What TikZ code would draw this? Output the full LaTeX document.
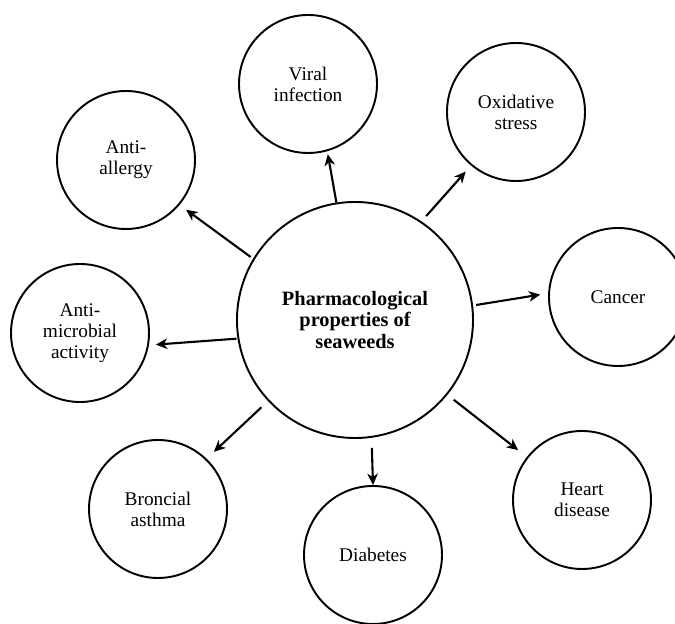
\documentclass[tikz,border=0pt]{standalone}
\usepackage{fontspec}
\setmainfont{Liberation Serif}
\usetikzlibrary{arrows.meta}

\begin{document}
\begin{tikzpicture}[thick,
  hub/.style={circle, draw, line width=1.1pt, minimum size=4.72cm, inner sep=0pt,
    align=center, font=\fontsize{11.6}{12.2}\selectfont\bfseries},
  prop/.style={circle, draw, line width=1.1pt, minimum size=2.76cm, inner sep=0pt,
    align=center, font=\fontsize{11}{12}\selectfont},
  link/.style={-{Stealth[length=6.5pt,width=6pt,inset=2pt]}, line width=1.2pt}]

  \useasboundingbox (0,0) rectangle (13.5,12.48);

  % -- Central hub --
  \node[hub] (hub) at (7.10, 6.08) {Pharmacological\\properties of\\seaweeds};

  % -- Outer properties --
  \node[prop] (viral)   at (6.16, 10.80) {Viral\\infection};
  \node[prop] (allergy) at (2.52, 9.28)  {Anti-\\allergy};
  \node[prop] (oxid)    at (10.32, 10.24) {Oxidative\\stress};
  \node[prop] (cancer)  at (12.36, 6.54) {Cancer};
  \node[prop] (microb)  at (1.60, 5.82)  {Anti-\\microbial\\activity};
  \node[prop] (asthma)  at (3.16, 2.30)  {Broncial\\asthma};
  \node[prop] (diab)    at (7.46, 1.38)  {Diabetes};
  \node[prop] (heart)   at (11.64, 2.48) {Heart\\disease};

  % -- Links from the hub --
  \draw[link, shorten >=0.06cm] (hub.99.6) -- (viral.286.8);
  \draw[link, shorten <=0.06cm, shorten >=0.16cm] (hub.149.8) -- (allergy.320.9);
  \draw[link, shorten <=0.14cm, shorten >=0.16cm] (hub.56.7) -- (oxid.230.8);
  \draw[link, shorten <=0.06cm, shorten >=0.16cm] (hub.7.6) -- (cancer.177.8);
  \draw[link, shorten <=0.02cm, shorten >=0.14cm] (hub.189.6) -- (microb.350.9);
  \draw[link, shorten <=0.18cm, shorten >=0.20cm] (hub.223.1) -- (asthma.46);
  \draw[link, shorten <=0.20cm] (hub.278.1) -- (diab.90);
  \draw[link, shorten <=0.16cm, shorten >=0.22cm] (hub.321.1) -- (heart.142.6);

\end{tikzpicture}
\end{document}
